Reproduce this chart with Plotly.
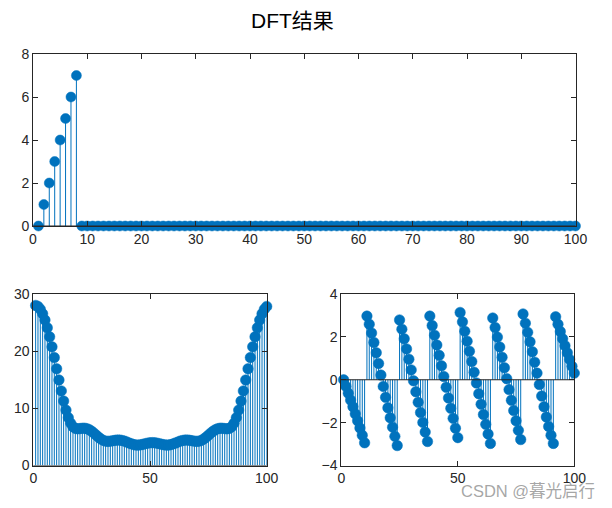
import plotly.graph_objects as go

# ---- data ----
n = list(range(1, 101))
signal = [0, 1, 2, 3, 4, 5, 6, 7] + [0] * 92
magnitude = [28.00,27.83,27.34,26.54,25.44,24.09,22.51,20.76,18.88,16.92,14.96,13.05,11.27,9.69,8.38,7.41,6.79,6.49,6.42,6.46,
             6.51,6.52,6.44,6.26,5.99,5.66,5.29,4.93,4.62,4.39,4.26,4.22,4.26,4.33,4.40,4.45,4.44,4.38,4.27,4.12,
             3.95,3.79,3.66,3.58,3.57,3.62,3.71,3.82,3.91,3.98,4.00,3.98,3.91,3.82,3.71,3.62,3.57,3.58,3.66,3.79,
             3.95,4.12,4.27,4.38,4.44,4.45,4.40,4.33,4.26,4.22,4.26,4.39,4.62,4.93,5.29,5.66,5.99,6.26,6.44,6.52,
             6.51,6.46,6.42,6.49,6.79,7.41,8.38,9.69,11.27,13.05,14.96,16.92,18.88,20.76,22.51,24.09,25.44,26.54,27.34,27.83]
phase = [0.00,-0.31,-0.63,-0.95,-1.26,-1.59,-1.91,-2.25,-2.59,-2.94,2.97,2.59,2.18,1.74,1.26,0.76,0.22,-0.31,-0.82,-1.31,
         -1.77,-2.21,-2.64,-3.07,2.79,2.36,1.91,1.44,0.96,0.46,-0.05,-0.56,-1.05,-1.53,-1.99,-2.44,-2.88,2.97,2.53,2.08,
         1.62,1.14,0.65,0.15,-0.35,-0.85,-1.33,-1.80,-2.26,-2.70,3.14,2.70,2.26,1.80,1.33,0.85,0.35,-0.15,-0.65,-1.14,
         -1.62,-2.08,-2.53,-2.97,2.88,2.44,1.99,1.53,1.05,0.56,0.05,-0.46,-0.96,-1.44,-1.91,-2.36,-2.79,3.07,2.64,2.21,
         1.77,1.31,0.82,0.31,-0.22,-0.76,-1.26,-1.74,-2.18,-2.59,-2.97,2.94,2.59,2.25,1.91,1.59,1.26,0.95,0.63,0.31]

title_text = "DFT结果"
watermark = "CSDN @暮光启行"

BLUE = "#0072BD"
AX = "#262626"
FONT = "Liberation Sans, Arial, Noto Sans CJK SC, sans-serif"
W, H = 612, 508

fig = go.Figure()


def stem(xs, ys, xa, ya, msize):
    sx, sy = [], []
    for a, b in zip(xs, ys):
        sx += [a, a, None]
        sy += [0, b, None]
    fig.add_trace(go.Scatter(x=sx, y=sy, mode="lines", line=dict(color=BLUE, width=1),
                             xaxis=xa, yaxis=ya, hoverinfo="skip", showlegend=False, cliponaxis=False))
    fig.add_trace(go.Scatter(x=xs, y=ys, mode="markers",
                             marker=dict(color=BLUE, size=msize, line=dict(color=BLUE, width=0.5)),
                             xaxis=xa, yaxis=ya, showlegend=False, cliponaxis=False))


stem(n, signal, "x", "y", 10)
stem(n, magnitude, "x2", "y2", 10.5)
stem(n, phase, "x3", "y3", 10.5)


def px_dom_x(a, b):
    return [a / W, b / W]


def px_dom_y(top, bottom):
    return [1 - bottom / H, 1 - top / H]


common = dict(showline=True, linecolor=AX, linewidth=1, mirror="ticks", ticks="inside",
              ticklen=5, tickwidth=1, tickcolor=AX, showgrid=False, zeroline=False,
              automargin=False, tickfont=dict(family=FONT, size=14, color=AX))

fig.update_layout(
    template="none",
    width=W, height=H, autosize=False, margin=dict(l=0, r=0, t=0, b=0, pad=0),
    paper_bgcolor="white", plot_bgcolor="white",
    xaxis=dict(domain=px_dom_x(33, 575.5), range=[0, 100], tickmode="array",
               tickvals=list(range(0, 101, 10)), anchor="y", **common),
    yaxis=dict(domain=px_dom_y(54, 226), range=[0, 8], tickmode="array",
               tickvals=[0, 2, 4, 6, 8], anchor="x", **common),
    xaxis2=dict(domain=px_dom_x(33.3, 266.7), range=[0, 100], tickmode="array",
                tickvals=[0, 50, 100], anchor="y2", **common),
    yaxis2=dict(domain=px_dom_y(294, 465.5), range=[0, 30], tickmode="array",
                tickvals=[0, 10, 20, 30], anchor="x2", **common),
    xaxis3=dict(domain=px_dom_x(341.3, 574.3), range=[0, 100], tickmode="array",
                tickvals=[0, 50, 100], anchor="y3", **common),
    yaxis3=dict(domain=px_dom_y(294, 465.5), range=[-4, 4], tickmode="array",
                tickvals=[-4, -2, 0, 2, 4], anchor="x3", **common),
)

# stem baselines
for xr, yr in [("x domain", "y"), ("x2 domain", "y2"), ("x3 domain", "y3")]:
    fig.add_shape(type="line", xref=xr, yref=yr, x0=0, x1=1, y0=0, y1=0,
                  line=dict(color=AX, width=1), layer="above")

fig.add_annotation(text=title_text, xref="paper", yref="paper", x=292 / W, y=1 - 20 / H,
                   xanchor="center", yanchor="middle", showarrow=False,
                   font=dict(family=FONT, size=21, color="#000000"))
fig.add_annotation(text=watermark, xref="paper", yref="paper", x=597 / W, y=1 - 490.5 / H,
                   xanchor="right", yanchor="middle", showarrow=False,
                   font=dict(family=FONT, size=16.5, color="rgba(150,150,150,0.85)"))

fig.write_html("out.html")
